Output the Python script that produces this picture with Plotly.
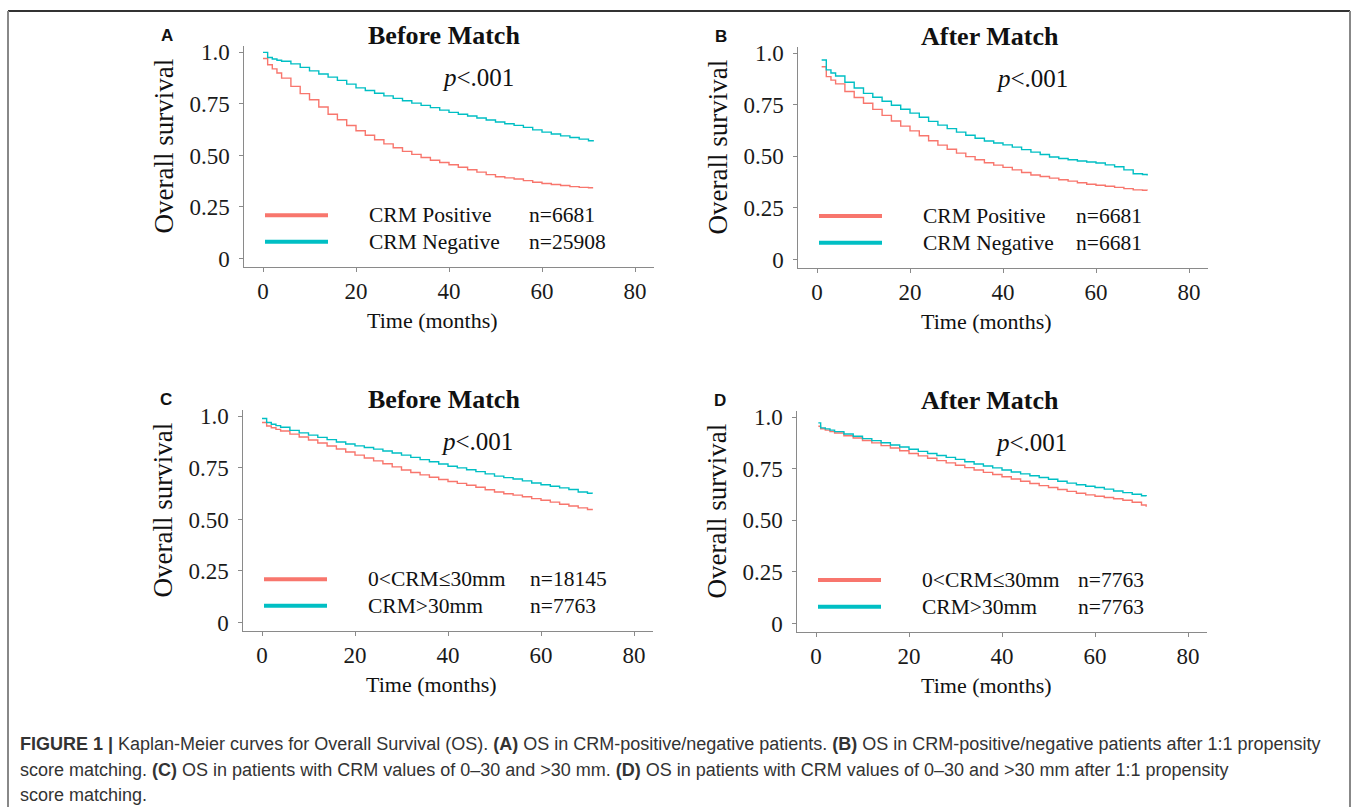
import plotly.graph_objects as go

W, H = 1357, 812

# ---------------- data ----------------
t_A = [0, 1, 2, 3, 4, 6, 8, 10, 12, 14, 16, 18, 20, 22, 24, 26, 28, 30, 32, 34, 36, 38,
       40, 42, 44, 46, 48, 50, 52, 54, 56, 58, 60, 62, 64, 66, 68, 70, 71]
A_neg = [1.0, 0.975, 0.968, 0.962, 0.957, 0.944, 0.927, 0.910, 0.895, 0.880, 0.864, 0.846,
         0.828, 0.815, 0.802, 0.789, 0.777, 0.765, 0.754, 0.743, 0.732, 0.720, 0.709, 0.700,
         0.691, 0.682, 0.672, 0.662, 0.654, 0.646, 0.636, 0.624, 0.613, 0.604, 0.595, 0.587,
         0.579, 0.571, 0.568]
A_pos = [0.97, 0.94, 0.92, 0.90, 0.875, 0.835, 0.80, 0.77, 0.735, 0.70, 0.673, 0.645,
         0.620, 0.598, 0.576, 0.556, 0.537, 0.520, 0.505, 0.490, 0.477, 0.466, 0.455, 0.443,
         0.431, 0.419, 0.407, 0.397, 0.391, 0.386, 0.378, 0.370, 0.364, 0.359, 0.354, 0.349,
         0.345, 0.343, 0.343]

t_B = [1, 2, 3, 4, 6, 8, 10, 12, 14, 16, 18, 20, 22, 24, 26, 28, 30, 32, 34, 36, 38,
       40, 42, 44, 46, 48, 50, 52, 54, 56, 58, 60, 62, 64, 66, 68, 70, 71]
B_neg = [0.968, 0.92, 0.905, 0.89, 0.86, 0.832, 0.806, 0.787, 0.768, 0.748, 0.729, 0.710,
         0.690, 0.670, 0.652, 0.635, 0.618, 0.603, 0.588, 0.575, 0.565, 0.556, 0.545, 0.533,
         0.521, 0.509, 0.497, 0.490, 0.484, 0.478, 0.473, 0.468, 0.459, 0.450, 0.435, 0.416,
         0.412, 0.408]
B_pos = [0.935, 0.887, 0.87, 0.852, 0.815, 0.786, 0.758, 0.728, 0.699, 0.672, 0.647, 0.624,
         0.600, 0.576, 0.555, 0.535, 0.516, 0.499, 0.484, 0.469, 0.458, 0.447, 0.435, 0.422,
         0.410, 0.403, 0.395, 0.387, 0.380, 0.372, 0.365, 0.360, 0.355, 0.350, 0.344, 0.338,
         0.336, 0.335]

t_C = t_A
C_gt30 = [0.99, 0.97, 0.962, 0.955, 0.947, 0.932, 0.920, 0.909, 0.898, 0.887, 0.876, 0.866,
          0.857, 0.849, 0.841, 0.832, 0.822, 0.812, 0.801, 0.790, 0.780, 0.769, 0.758, 0.750,
          0.741, 0.732, 0.721, 0.710, 0.703, 0.696, 0.687, 0.677, 0.668, 0.661, 0.653, 0.645,
          0.633, 0.627, 0.625]
C_le30 = [0.97, 0.953, 0.945, 0.937, 0.929, 0.914, 0.900, 0.885, 0.871, 0.856, 0.842, 0.827,
          0.812, 0.798, 0.784, 0.770, 0.755, 0.740, 0.728, 0.716, 0.705, 0.694, 0.684, 0.675,
          0.666, 0.656, 0.644, 0.633, 0.625, 0.618, 0.610, 0.601, 0.593, 0.584, 0.574, 0.565,
          0.556, 0.548, 0.545]

t_D = [0.5, 1, 2, 3, 4, 6, 8, 10, 12, 14, 16, 18, 20, 22, 24, 26, 28, 30, 32, 34, 36, 38,
       40, 42, 44, 46, 48, 50, 52, 54, 56, 58, 60, 62, 64, 66, 68, 70, 71]
D_gt30 = [0.973, 0.949, 0.944, 0.938, 0.931, 0.919, 0.908, 0.897, 0.887, 0.877, 0.866, 0.856,
          0.845, 0.835, 0.825, 0.815, 0.806, 0.796, 0.785, 0.774, 0.764, 0.755, 0.745, 0.735,
          0.726, 0.717, 0.708, 0.700, 0.690, 0.681, 0.673, 0.666, 0.660, 0.652, 0.643, 0.635,
          0.627, 0.620, 0.617]
D_le30 = [0.957, 0.945, 0.938, 0.931, 0.924, 0.911, 0.900, 0.888, 0.876, 0.863, 0.851, 0.838,
          0.825, 0.813, 0.802, 0.790, 0.779, 0.768, 0.756, 0.745, 0.733, 0.723, 0.712, 0.701,
          0.690, 0.679, 0.669, 0.660, 0.650, 0.641, 0.632, 0.624, 0.617, 0.611, 0.605, 0.598,
          0.588, 0.575, 0.567]

panel_letters = ["A", "B", "C", "D"]
panel_titles = ["Before Match", "After Match", "Before Match", "After Match"]
p_text = "<i>p</i>&lt;.001"
legend_labels = [["CRM Positive", "CRM Negative"],
                 ["CRM Positive", "CRM Negative"],
                 ["0&lt;CRM≤30mm", "CRM&gt;30mm"],
                 ["0&lt;CRM≤30mm", "CRM&gt;30mm"]]
legend_n = [["n=6681", "n=25908"], ["n=6681", "n=6681"],
            ["n=18145", "n=7763"], ["n=7763", "n=7763"]]
x_ticks = [0, 20, 40, 60, 80]
y_ticks = [0, 0.25, 0.5, 0.75, 1.0]
y_ticktext = ["0", "0.25", "0.50", "0.75", "1.0"]

RED = "#F8766D"
TEAL = "#00BFC4"
SERIF = "Liberation Serif, Times New Roman, serif"
SANS = "Liberation Sans, Arial, sans-serif"

# ---------------- geometry (pixels) ----------------
XR = [-4, 84]
YR = [-0.04, 1.03]
PPM = 4.65   # px per month
PPU = 209    # px per survival unit
# per panel: (x of t=0, y of S=0, title centre x, n-column x)
panels_geo = [(263, 256, 444, 527), (817, 257, 990, 1074),
              (262, 625, 444, 528), (816, 626, 990, 1076)]

def xp(px):
    return px / W

def yp(py):
    return 1 - py / H

fig = go.Figure()
layout = dict(width=W, height=H, margin=dict(l=0, r=0, t=0, b=0),
              paper_bgcolor="white", plot_bgcolor="white", showlegend=False)

series = [(t_A, A_pos, A_neg), (t_B, B_pos, B_neg), (t_C, C_le30, C_gt30), (t_D, D_le30, D_gt30)]
annotations = []
shapes = []

for i, (t, red, teal) in enumerate(series):
    ox, oy, tcx, nx = panels_geo[i]
    x0 = ox + XR[0] * PPM
    x1 = ox + XR[1] * PPM
    yb = oy - YR[0] * PPU
    yt = oy - YR[1] * PPU
    sfx = "" if i == 0 else str(i + 1)
    axis_common = dict(showgrid=False, zeroline=False, showline=True, linecolor="#8a8a8a",
                       linewidth=1, ticks="outside", ticklen=4, tickcolor="#8a8a8a",
                       tickfont=dict(family=SERIF, size=23, color="#1a1a1a"))
    layout["xaxis" + sfx] = dict(axis_common, domain=[xp(x0), xp(x1)], range=XR,
                                 tickvals=x_ticks, anchor="y" + sfx, ticklabelstandoff=0)
    layout["yaxis" + sfx] = dict(axis_common, domain=[yp(yb), yp(yt)], range=YR,
                                 tickvals=y_ticks, ticktext=y_ticktext, anchor="x" + sfx,
                                 ticklabelstandoff=5)
    fig.add_trace(go.Scatter(x=t, y=red, mode="lines", line=dict(color=RED, width=1.4, shape="hv"),
                             xaxis="x" + sfx, yaxis="y" + sfx))
    fig.add_trace(go.Scatter(x=t, y=teal, mode="lines", line=dict(color=TEAL, width=1.4, shape="hv"),
                             xaxis="x" + sfx, yaxis="y" + sfx))

    # panel letter
    annotations.append(dict(text="<b>%s</b>" % panel_letters[i], x=xp(x0 - 77), y=yp(oy - 226),
                            xref="paper", yref="paper", showarrow=False, xanchor="center",
                            yanchor="middle", font=dict(family=SANS, size=17, color="#111")))
    # title
    annotations.append(dict(text="<b>%s</b>" % panel_titles[i], x=xp(tcx), y=yp(oy - 226),
                            xref="paper", yref="paper", showarrow=False, xanchor="center",
                            yanchor="middle", font=dict(family=SERIF, size=26, color="#111")))
    # p value
    annotations.append(dict(text=p_text, x=xp(ox + 215), y=yp(oy - 184),
                            xref="paper", yref="paper", showarrow=False, xanchor="center",
                            yanchor="middle", font=dict(family=SERIF, size=25, color="#111")))
    # axis titles
    annotations.append(dict(text="Overall survival", x=xp(x0 - 80), y=yp(oy - 114),
                            xref="paper", yref="paper", showarrow=False, xanchor="center",
                            yanchor="middle", textangle=-90,
                            font=dict(family=SERIF, size=27, color="#111")))
    annotations.append(dict(text="Time (months)", x=xp(ox + 170), y=yp(oy + 63),
                            xref="paper", yref="paper", showarrow=False, xanchor="center",
                            yanchor="middle", font=dict(family=SERIF, size=22, color="#111")))
    # legend
    for j, col in enumerate([RED, TEAL]):
        ly = oy - 44 + j * 27
        shapes.append(dict(type="line", xref="paper", yref="paper",
                           x0=xp(ox + 2), x1=xp(ox + 65), y0=yp(ly), y1=yp(ly),
                           line=dict(color=col, width=4)))
        annotations.append(dict(text=legend_labels[i][j], x=xp(ox + 104), y=yp(ly),
                                xref="paper", yref="paper", showarrow=False, xanchor="left",
                                yanchor="middle", font=dict(family=SERIF, size=21.5, color="#111")))
        annotations.append(dict(text=legend_n[i][j], x=xp(nx), y=yp(ly),
                                xref="paper", yref="paper", showarrow=False, xanchor="left",
                                yanchor="middle", font=dict(family=SERIF, size=21.5, color="#111")))

# frame
shapes.append(dict(type="line", xref="paper", yref="paper", x0=xp(8), x1=xp(1350),
                   y0=yp(5), y1=yp(5), line=dict(color="#333", width=2)))
shapes.append(dict(type="line", xref="paper", yref="paper", x0=xp(8), x1=xp(8),
                   y0=yp(5), y1=yp(812), line=dict(color="#888", width=2)))
shapes.append(dict(type="line", xref="paper", yref="paper", x0=xp(1350), x1=xp(1350),
                   y0=yp(5), y1=yp(812), line=dict(color="#888", width=2)))

caption = [
    "<b>FIGURE 1 |</b> Kaplan-Meier curves for Overall Survival (OS). <b>(A)</b> OS in CRM-positive/negative patients. "
    "<b>(B)</b> OS in CRM-positive/negative patients after 1:1 propensity",
    "score matching. <b>(C)</b> OS in patients with CRM values of 0–30 and &gt;30 mm. <b>(D)</b> OS in patients with "
    "CRM values of 0–30 and &gt;30 mm after 1:1 propensity",
    "score matching.",
]
for k, line in enumerate(caption):
    annotations.append(dict(text=line, x=xp(18), y=yp(748 + 26 * k), xref="paper", yref="paper",
                            showarrow=False, xanchor="left", yanchor="middle",
                            font=dict(family=SANS, size=18, color="#333")))

layout["annotations"] = annotations
layout["shapes"] = shapes
fig.update_layout(**layout)
fig.write_html("out.html", config={"displayModeBar": False},
               post_script="document.body.style.margin='0';document.body.style.padding='0';"
                           "document.body.style.overflow='hidden';")
